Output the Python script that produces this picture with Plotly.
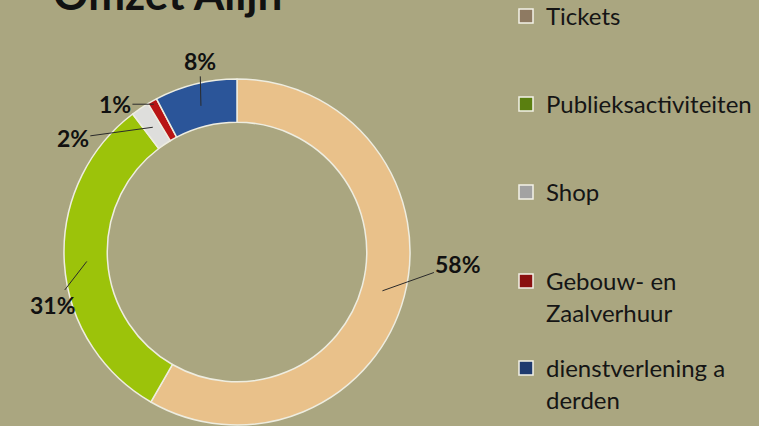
import math
import plotly.graph_objects as go

# ---- data ----
categories = ["Tickets", "Publieksactiviteiten", "Shop", "Gebouw- en Zaalverhuur", "dienstverlening a derden"]
legend_labels = ["Tickets", "Publieksactiviteiten", "Shop", "Gebouw- en<br>Zaalverhuur", "dienstverlening a<br>derden"]
values = [58.3, 31.4, 1.7, 0.9, 7.7]
title_text = "Omzet Alijn"

# ---- styles ----
slice_colors = ["#E9C18A", "#9CC30A", "#DEDEDC", "#B81414", "#2B5599"]
swatch_colors = ["#8E7A62", "#5A7F10", "#A2A2A2", "#8A1010", "#1E3A6E"]
BG = "#AAA680"
W, H = 759, 426
CX, CY, R = 237, 252, 173
HOLE = 0.75
label_offsets = [(76, -27), (-34, 44), (-80, 11), (-39, 0), (-1, -45)]
label_radius = [0.87, 0.87, 0.87, 0.98, 0.87]
legend_first_line_y = [18, 106, 194, 283, 370]
FONT = "Lato"

fig = go.Figure()
fig.add_trace(go.Pie(
    labels=categories, values=values, hole=HOLE, sort=False,
    direction="clockwise", rotation=0, textinfo="none",
    marker=dict(colors=slice_colors, line=dict(color="#EEEDE0", width=1.5)),
    domain=dict(x=[(CX - R) / W, (CX + R) / W], y=[1 - (CY + R) / H, 1 - (CY - R) / H]),
    showlegend=False,
))

# data labels with leader lines, anchored on the slice mid-angles
total = sum(values)
cum = 0.0
annotations = []
for i, v in enumerate(values):
    mid = (cum + v / 2) / total
    cum += v
    th = 2 * math.pi * mid
    r = R * label_radius[i]
    px = CX + r * math.sin(th)
    py = CY - r * math.cos(th)
    ax, ay = label_offsets[i]
    annotations.append(dict(
        x=px / W, y=1 - py / H, xref="paper", yref="paper",
        text=f"<b>{round(v / total * 100)}%</b>", showarrow=True,
        ax=ax, ay=ay, arrowhead=0, arrowwidth=1, arrowcolor="#2a2a2a", standoff=0,
        font=dict(family=FONT, size=23, color="#111111"),
    ))

annotations.append(dict(
    x=51 / W, y=1 + 7 / H, xref="paper", yref="paper", xanchor="left", yanchor="middle",
    text=f"<b>{title_text}</b>", showarrow=False,
    font=dict(family=FONT, size=44, color="#111111"),
))

# legend: one legend per entry so spacing matches the reference
legend_layout = {}
for i, (lab, col) in enumerate(zip(legend_labels, swatch_colors)):
    key = "legend" if i == 0 else f"legend{i + 1}"
    fig.add_trace(go.Scatter(
        x=[None], y=[None], mode="markers", name=lab, legend=key,
        marker=dict(symbol="square", size=14, color=col, line=dict(color="#F4F2E8", width=1.5)),
    ))
    legend_layout[key] = dict(
        x=506 / W, xanchor="left", y=1 - (legend_first_line_y[i] - 24) / H, yanchor="top",
        bgcolor="rgba(0,0,0,0)", valign="top",
        font=dict(family=FONT, size=24, color="#151515"),
    )

fig.update_layout(
    width=W, height=H, margin=dict(l=0, r=0, t=0, b=0, autoexpand=False),
    paper_bgcolor=BG, plot_bgcolor=BG,
    xaxis=dict(visible=False), yaxis=dict(visible=False),
    annotations=annotations, **legend_layout,
)

fig.write_html(
    "out.html",
    config={"displayModeBar": False},
    post_script="document.body.style.margin='0';document.body.style.background='" + BG + "';",
)
